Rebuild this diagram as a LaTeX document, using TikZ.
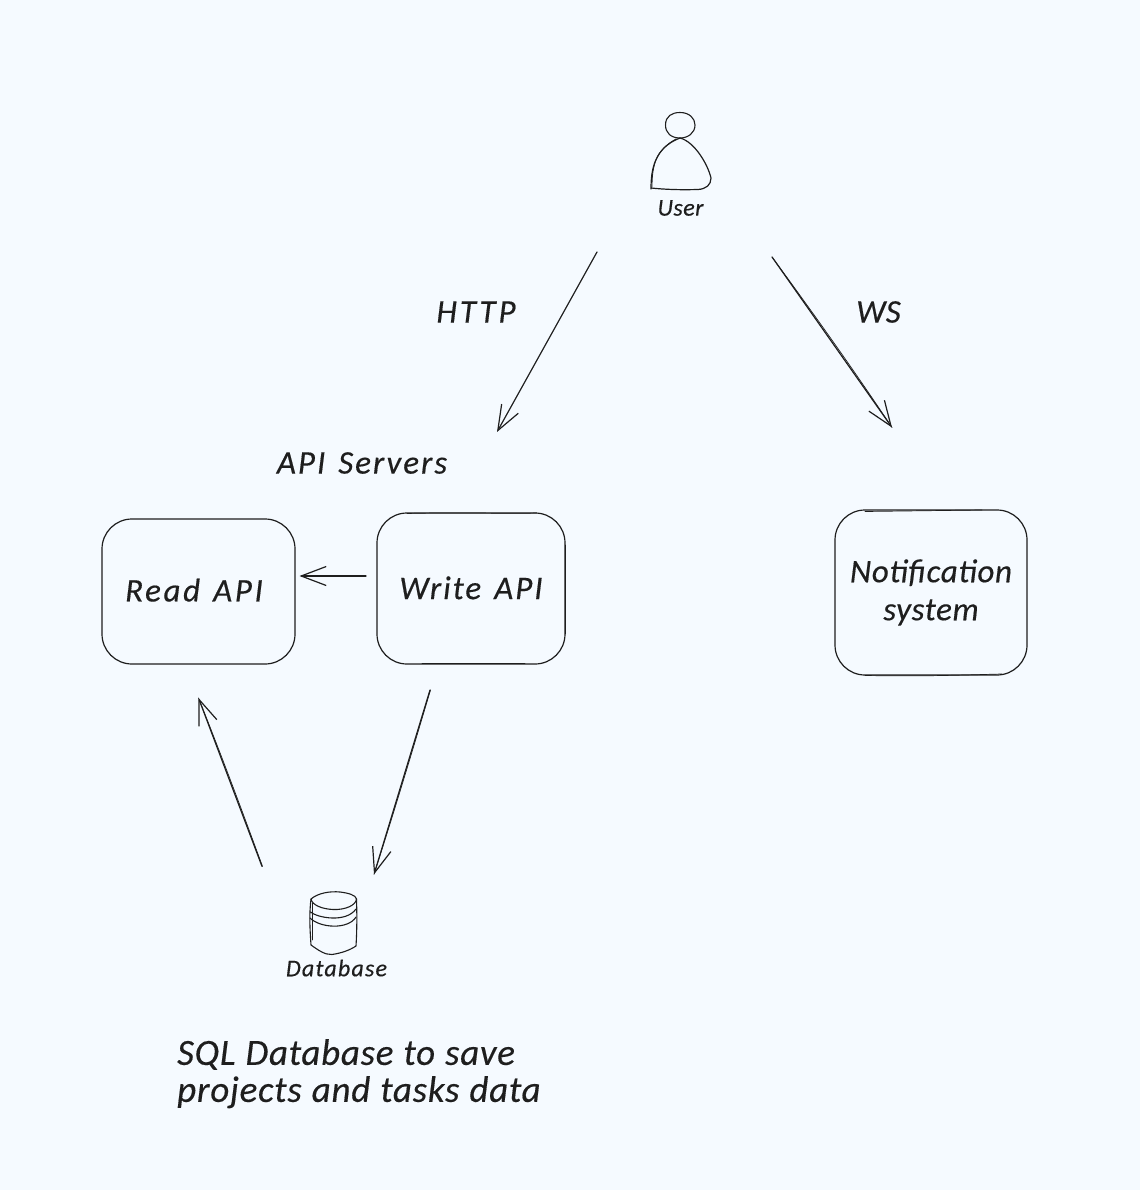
\documentclass[tikz,border=0pt]{standalone}
\usepackage{fontspec}
\setmainfont{Carlito}
\usetikzlibrary{arrows.meta,calc}
\definecolor{ink}{HTML}{1E1E1E}
\definecolor{paper}{HTML}{F5FAFF}
\newcommand{\hand}[3]{\itshape\fontsize{#1}{#1}\selectfont\addfontfeatures{LetterSpace=#2,FakeBold=0.35}\spaceskip=#3pt\relax}
\tikzset{
  every node/.style={text=ink},
  apibox/.style={draw=ink,line width=1.2pt,rounded corners=30pt,inner sep=0pt,outer sep=0pt,align=center,font=\hand{33}{6}{13}},
  sketchline/.style={draw=ink,line width=0.8pt,line cap=round,line join=round},
  flow/.style={draw=ink,line width=1.2pt,line cap=round,-{Straight Barb[length=25pt,width=19pt,line width=1.2pt]}},
  echo/.style={draw=ink,line width=0.7pt,line cap=round},
  biglabel/.style={inner sep=0pt,font=\hand{33}{6}{13}},
  notelabel/.style={inner sep=0pt,align=left,anchor=north west,font=\hand{37}{2}{10}}
}
\begin{document}
\begin{tikzpicture}[x=1pt,y=-1pt]
\useasboundingbox (0,0) rectangle (1140,1190);
\fill[paper] (0,0) rectangle (1140,1190);

% labels
\node[inner sep=0pt,font=\hand{24}{2}{6}] (user) at (680.5,208) {User};
\node[inner sep=0pt,font=\hand{24}{5}{6}] (database) at (336.5,968) {Database};
\node[biglabel,font=\hand{33}{9}{8}] (http) at (476,312) {HTTP};
\node[biglabel,font=\hand{33}{1}{8}] (ws) at (878.5,312) {WS};
\node[biglabel] (servers) at (362,463) {API Servers};
\node[notelabel] (note) at (177,1039) {SQL Database to save\\[0pt]projects and tasks data};

% boxes
\node[apibox,font=\hand{33}{8}{13},minimum width=193pt,minimum height=145pt] (readapi) at (198.5,591.5) {\raisebox{3pt}{Read API\hspace*{9pt}}};
\node[apibox,minimum width=188pt,minimum height=151pt] (writeapi) at (471,588.5) {\raisebox{1.5pt}{Write API}};
\node[apibox,font=\hand{33}{2}{8},minimum width=192pt,minimum height=165pt] (notify) at (931,592.5) {Notification\\[5pt]system};

% second strokes on the boxes
\draw[echo] ($(writeapi.north west)+(30,0.5)$) .. controls ($(writeapi.north)+(0,-1)$) and ($(writeapi.north)+(30,1)$) .. ($(writeapi.north east)+(-28,0)$);
\draw[echo] ($(writeapi.south west)+(45,-0.5)$) -- ($(writeapi.south east)+(-40,-0.5)$);
\draw[echo] ($(writeapi.north east)+(0.5,32)$) -- ($(writeapi.south east)+(0.5,-30)$);
\draw[echo] ($(notify.north west)+(30,1.5)$) -- ($(notify.north east)+(-45,0)$);
\draw[echo] ($(notify.south west)+(30,0.5)$) .. controls ($(notify.south)+(0,1.5)$) and ($(notify.south)+(30,0)$) .. ($(notify.south east)+(-25,-1)$);

% user icon
\draw[sketchline,line width=1.1pt] (665.5,125) .. controls (665.5,116) and (672,112.5) .. (680,112.5) .. controls (689,112.5) and (695,118) .. (695,125) .. controls (695,133) and (688,138) .. (680,138) .. controls (671,138) and (665.5,133) .. (665.5,125) -- cycle;
\draw[sketchline,line width=1.2pt] (651,189) .. controls (651,170) and (654,148) .. (680,138) .. controls (695,142) and (708,165) .. (711,178) .. controls (711,185) and (706,189) .. (698,189.5) .. controls (680,190) and (665,189.5) .. (651,188);
\draw[sketchline] (652,187) .. controls (652,165) and (656,150) .. (676,139);

% database icon
\draw[sketchline,line width=1.1pt] (311,899) .. controls (318,893) and (330,891) .. (340,892) .. controls (348,893) and (356,895) .. (356.5,899) .. controls (356,905) and (346,910) .. (333,909.5) .. controls (322,909) and (312,905) .. (311,899) -- cycle;
\draw[sketchline,line width=1.1pt] (310.5,912) .. controls (318,918) and (346,923) .. (356,909);
\draw[sketchline,line width=1.1pt] (310,918) .. controls (320,928) and (348,930) .. (356,917);
\draw[sketchline,line width=1.1pt] (311,899) .. controls (309,915) and (310,930) .. (311,945) .. controls (318,950) and (325,955) .. (332,954.5) .. controls (342,953) and (350,950) .. (356,946) .. controls (357,930) and (357,915) .. (356.5,899);
\draw[sketchline] (312,903) -- (312,940);

% connectors
\coordinate (httpA) at ($(user.south)+(-83.5,36)$);
\coordinate (httpB) at ($(servers.north)+(135,-20)$);
\coordinate (wsA) at ($(user.south)+(91.5,41)$);
\coordinate (wsB) at ($(notify.north)+(-39,-82.5)$);
\coordinate (syncA) at ($(writeapi.west)+(-11,-12.5)$);
\coordinate (syncB) at ($(readapi.east)+(4.5,-15.5)$);
\coordinate (saveA) at ($(writeapi.south)+(-41,26)$);
\coordinate (saveB) at ($(database.north)+(37.5,-85)$);
\coordinate (loadA) at ($(database.north)+(-74.5,-93)$);
\coordinate (loadB) at ($(readapi.south)+(0,34)$);

\draw[flow] (httpA) -- (httpB);
\draw[flow] (wsA) -- (wsB);
\draw[echo] (wsA) .. controls ($(wsA)!0.4!(wsB)+(2,0)$) and ($(wsA)!0.7!(wsB)+(2,0)$) .. (wsB);
\draw[flow] (syncA) -- (syncB);
\draw[flow] (saveA) -- (saveB);
\draw[echo] ($(saveA)+(0.5,0)$) .. controls ($(saveA)!0.4!(saveB)+(1,0)$) and ($(saveA)!0.7!(saveB)+(1,0)$) .. (saveB);
\draw[flow] (loadA) -- (loadB);
\draw[echo] ($(loadA)+(0.5,0)$) .. controls ($(loadA)!0.4!(loadB)+(1.2,0)$) and ($(loadA)!0.7!(loadB)+(1.2,0)$) .. (loadB);
\end{tikzpicture}
\end{document}
